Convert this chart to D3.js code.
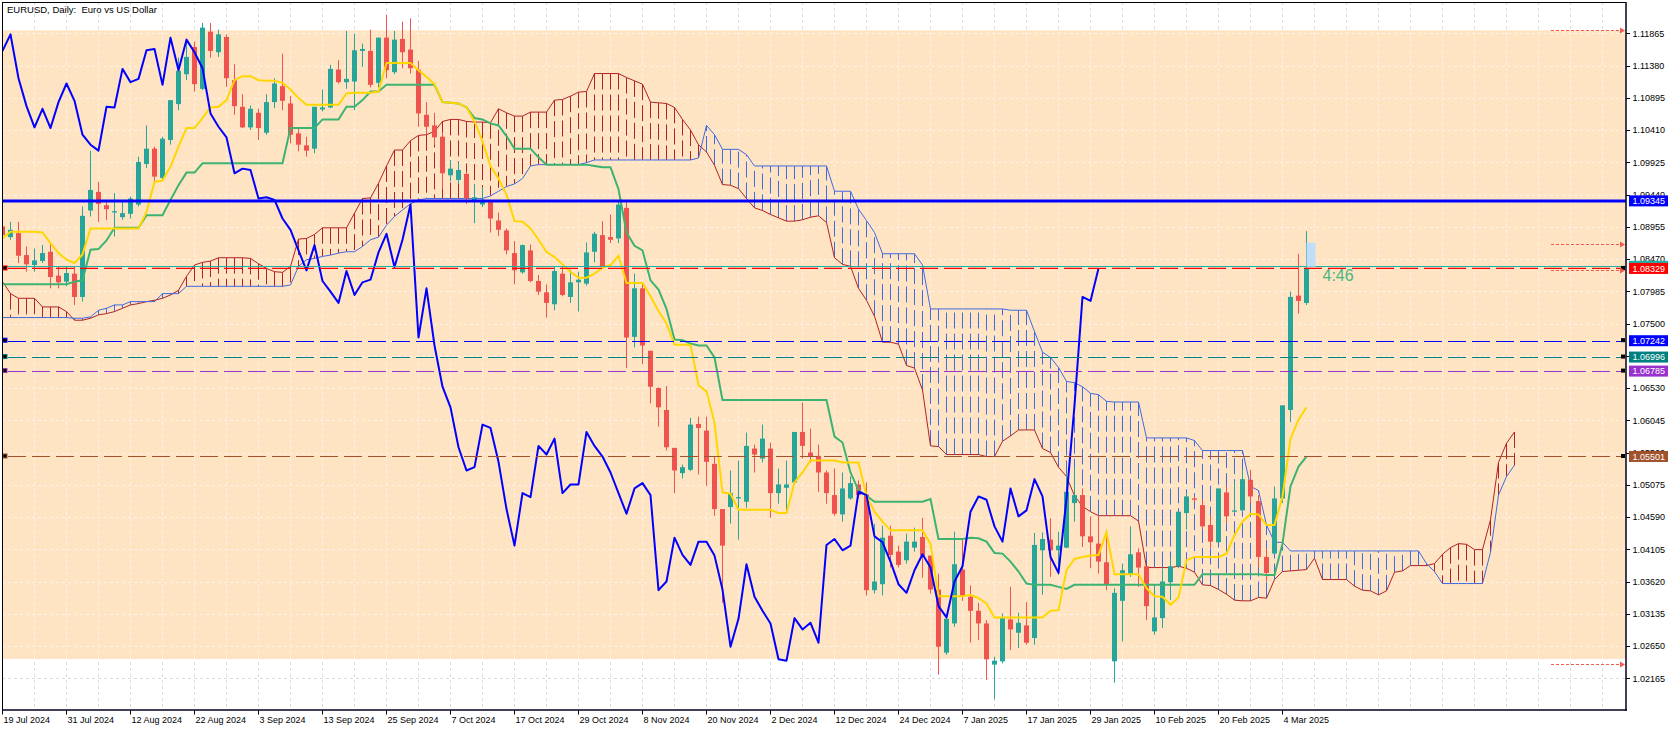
<!DOCTYPE html>
<html>
<head>
<meta charset="utf-8">
<script src="https://cdn.jsdelivr.net/npm/d3@7/dist/d3.min.js"></script>
<style>
html,body{margin:0;padding:0;background:#fff;overflow:hidden}
svg{display:block}
text{font-family:"Liberation Sans",Arial,sans-serif}
</style>
</head>
<body>
<svg id="chart" width="1679" height="731"></svg>
<script>
// ---------------- DATA (EURUSD daily, 19 Jul 2024 .. 7 Mar 2025) ----------------
const openP = [
1.0896,1.0880,1.0886,1.0853,1.0838,1.0844,1.0858,1.0822,1.0813,1.0825,
1.0790,1.0920,1.0948,1.0928,1.0917,1.0910,1.0915,1.0929,1.0990,1.1013,
1.0969,1.1026,1.1080,1.1125,1.1166,1.1103,1.1189,1.1158,1.1181,1.1116,
1.1076,1.1045,1.1067,1.1037,1.1083,1.1107,1.1081,1.1036,1.1018,1.1013,
1.1072,1.1075,1.1132,1.1113,1.1114,1.1160,1.1160,1.1112,1.1180,1.1128,
1.1178,1.1162,1.1132,1.1064,1.1048,1.1031,1.0973,1.0966,1.0975,1.0933,
1.0929,1.0933,1.0905,1.0890,1.0856,1.0827,1.0860,1.0814,1.0797,1.0779,
1.0825,1.0790,1.0812,1.0810,1.0858,1.0883,1.0880,1.0878,1.0924,1.0730,
1.0803,1.0709,1.0653,1.0620,1.0563,1.0525,1.0530,1.0599,1.0589,1.0539,
1.0471,1.0474,1.0487,1.0482,1.0562,1.0547,1.0562,1.0495,1.0503,1.0511,
1.0587,1.0556,1.0551,1.0526,1.0492,1.0463,1.0487,1.0508,1.0493,1.0349,
1.0358,1.0431,1.0407,1.0394,1.0413,1.0429,1.0401,1.0350,1.0255,1.0299,
1.0380,1.0339,1.0318,1.0299,1.0237,1.0242,1.0305,1.0285,1.0296,1.0277,
1.0409,1.0425,1.0409,1.0413,1.0480,1.0492,1.0430,1.0419,1.0391,1.0242,
1.0333,1.0373,1.0406,1.0385,1.0287,1.0307,1.0361,1.0385,1.0465,1.0487,
1.0477,1.0447,1.0421,1.0496,1.0467,1.0469,1.0515,1.0483,1.0399,1.0404,
1.0487,1.0620,1.0792,1.0781];
const highP = [
1.0900,1.0903,1.0903,1.0866,1.0863,1.0868,1.0871,1.0836,1.0836,1.0836,
1.0926,1.1010,1.0963,1.0936,1.0946,1.0933,1.0941,1.1001,1.1048,1.1016,
1.1031,1.1086,1.1150,1.1178,1.1174,1.1202,1.1202,1.1192,1.1185,1.1140,
1.1095,1.1078,1.1073,1.1095,1.1119,1.1156,1.1092,1.1044,1.1031,1.1076,
1.1102,1.1139,1.1146,1.1190,1.1186,1.1171,1.1192,1.1180,1.1214,1.1190,
1.1204,1.1209,1.1145,1.1083,1.1067,1.1038,1.0996,1.0992,1.0979,1.0960,
1.0955,1.0936,1.0917,1.0893,1.0874,1.0869,1.0869,1.0823,1.0809,1.0836,
1.0836,1.0831,1.0828,1.0872,1.0888,1.0904,1.0914,1.0933,1.0933,1.0825,
1.0812,1.0709,1.0654,1.0656,1.0563,1.0538,1.0608,1.0610,1.0610,1.0550,
1.0471,1.0529,1.0544,1.0586,1.0568,1.0598,1.0571,1.0532,1.0544,1.0587,
1.0631,1.0592,1.0568,1.0529,1.0532,1.0526,1.0520,1.0514,1.0511,1.0449,
1.0446,1.0446,1.0416,1.0434,1.0443,1.0458,1.0401,1.0374,1.0312,1.0437,
1.0425,1.0356,1.0330,1.0304,1.0249,1.0314,1.0354,1.0315,1.0331,1.0435,
1.0436,1.0457,1.0437,1.0525,1.0533,1.0502,1.0460,1.0462,1.0440,1.0352,
1.0389,1.0445,1.0412,1.0385,1.0357,1.0382,1.0397,1.0467,1.0495,1.0490,
1.0485,1.0462,1.0502,1.0505,1.0512,1.0530,1.0530,1.0492,1.0412,1.0505,
1.0627,1.0798,1.0855,1.0889];
const lowP = [
1.0880,1.0876,1.0841,1.0828,1.0828,1.0841,1.0803,1.0803,1.0806,1.0778,
1.0783,1.0911,1.0903,1.0906,1.0881,1.0906,1.0908,1.0926,1.0984,1.0963,
1.0966,1.1019,1.1071,1.1116,1.1099,1.1101,1.1150,1.1151,1.1106,1.1064,
1.1044,1.1041,1.1026,1.1034,1.1074,1.1071,1.1021,1.1009,1.1001,1.1006,
1.1069,1.1074,1.1111,1.1103,1.1071,1.1136,1.1105,1.1105,1.1119,1.1125,
1.1134,1.1126,1.1046,1.1035,1.1019,1.0952,1.0964,1.0960,1.0930,1.0901,
1.0925,1.0887,1.0882,1.0854,1.0809,1.0825,1.0812,1.0793,1.0759,1.0770,
1.0791,1.0781,1.0768,1.0807,1.0842,1.0834,1.0871,1.0871,1.0683,1.0714,
1.0689,1.0630,1.0595,1.0559,1.0495,1.0517,1.0528,1.0523,1.0506,1.0461,
1.0330,1.0449,1.0425,1.0473,1.0526,1.0541,1.0458,1.0479,1.0467,1.0508,
1.0547,1.0541,1.0497,1.0479,1.0461,1.0452,1.0485,1.0487,1.0341,1.0344,
1.0341,1.0383,1.0383,1.0389,1.0407,1.0368,1.0344,1.0222,1.0252,1.0294,
1.0333,1.0270,1.0274,1.0214,1.0185,1.0239,1.0259,1.0262,1.0267,1.0267,
1.0342,1.0369,1.0372,1.0412,1.0452,1.0414,1.0382,1.0374,1.0349,1.0210,
1.0272,1.0369,1.0354,1.0304,1.0282,1.0292,1.0334,1.0382,1.0440,1.0482,
1.0440,1.0412,1.0420,1.0450,1.0465,1.0467,1.0480,1.0384,1.0362,1.0404,
1.0480,1.0602,1.0765,1.0778];
const closeP = [
1.0883,1.0891,1.0852,1.0839,1.0845,1.0856,1.0820,1.0812,1.0826,1.0790,
1.0912,1.0951,1.0930,1.0922,1.0919,1.0916,1.0938,1.0993,1.1013,1.0971,
1.1028,1.1086,1.1130,1.1151,1.1110,1.1195,1.1160,1.1185,1.1119,1.1077,
1.1045,1.1073,1.1044,1.1083,1.1111,1.1085,1.1034,1.1019,1.1010,1.1076,
1.1075,1.1133,1.1113,1.1118,1.1161,1.1163,1.1109,1.1180,1.1131,1.1177,
1.1158,1.1134,1.1066,1.1046,1.1030,1.0976,1.0983,1.0981,1.0938,1.0940,
1.0936,1.0908,1.0891,1.0860,1.0830,1.0868,1.0814,1.0798,1.0781,1.0829,
1.0793,1.0812,1.0816,1.0857,1.0885,1.0835,1.0876,1.0929,1.0729,1.0803,
1.0717,1.0655,1.0624,1.0564,1.0529,1.0534,1.0598,1.0593,1.0542,1.0471,
1.0416,1.0495,1.0489,1.0566,1.0553,1.0577,1.0495,1.0508,1.0508,1.0587,
1.0566,1.0550,1.0526,1.0495,1.0464,1.0502,1.0510,1.0492,1.0349,1.0362,
1.0428,1.0402,1.0387,1.0422,1.0422,1.0401,1.0350,1.0264,1.0306,1.0388,
1.0339,1.0318,1.0299,1.0245,1.0243,1.0307,1.0290,1.0300,1.0270,1.0417,
1.0426,1.0409,1.0416,1.0497,1.0492,1.0430,1.0421,1.0392,1.0358,1.0345,
1.0379,1.0403,1.0383,1.0325,1.0308,1.0362,1.0385,1.0467,1.0490,1.0485,
1.0445,1.0422,1.0502,1.0460,1.0469,1.0516,1.0490,1.0399,1.0375,1.0487,
1.0627,1.0790,1.0784,1.0833];

// Ichimoku lines
const tenkan = [
1.0878,1.0888,1.0888,1.0888,1.0888,1.0887,1.0871,1.0856,1.0846,1.0841,
1.0854,1.0893,1.0893,1.0893,1.0893,1.0893,1.0893,1.0893,1.0918,1.0963,
1.0965,1.0986,1.1016,1.1044,1.1044,1.1059,1.1075,1.1076,1.1086,1.1116,
1.1122,1.1122,1.1116,1.1115,1.1115,1.1112,1.1102,1.1089,1.1079,1.1079,
1.1079,1.1079,1.1079,1.1096,1.1097,1.1097,1.1097,1.1099,1.1142,1.1142,
1.1142,1.1142,1.1131,1.1121,1.1110,1.1083,1.1082,1.1081,1.1075,1.1054,
1.1024,1.0987,1.0968,1.0944,1.0904,1.0903,1.0893,1.0876,1.0858,1.0850,
1.0839,1.0828,1.0819,1.0819,1.0825,1.0834,1.0838,1.0852,1.0811,1.0811,
1.0811,1.0791,1.0769,1.0750,1.0718,1.0718,1.0718,1.0657,1.0648,1.0601,
1.0496,1.0494,1.0470,1.0470,1.0470,1.0470,1.0470,1.0465,1.0465,1.0511,
1.0526,1.0544,1.0544,1.0544,1.0544,1.0541,1.0541,1.0541,1.0491,1.0467,
1.0452,1.0439,1.0439,1.0439,1.0439,1.0439,1.0419,1.0340,1.0340,1.0340,
1.0340,1.0342,1.0337,1.0329,1.0308,1.0308,1.0308,1.0308,1.0308,1.0308,
1.0308,1.0318,1.0319,1.0379,1.0396,1.0399,1.0401,1.0402,1.0436,1.0373,
1.0373,1.0373,1.0373,1.0352,1.0340,1.0339,1.0327,1.0338,1.0394,1.0399,
1.0399,1.0399,1.0399,1.0404,1.0432,1.0452,1.0464,1.0463,1.0447,1.0447,
1.0490,1.0577,1.0605,1.0624];
const kijun = [
1.0809,1.0809,1.0809,1.0809,1.0809,1.0809,1.0809,1.0809,1.0809,1.0813,
1.0815,1.0861,1.0862,1.0875,1.0894,1.0894,1.0894,1.0894,1.0913,1.0913,
1.0913,1.0936,1.0958,1.0977,1.0977,1.0991,1.0991,1.0991,1.0991,1.0991,
1.0991,1.0991,1.0991,1.0991,1.0991,1.0991,1.1044,1.1044,1.1044,1.1044,
1.1057,1.1057,1.1057,1.1076,1.1076,1.1086,1.1099,1.1099,1.1109,1.1109,
1.1109,1.1109,1.1109,1.1109,1.1109,1.1083,1.1082,1.1081,1.1075,1.1059,
1.1057,1.1051,1.1048,1.1032,1.1013,1.1013,1.1013,1.1000,1.0989,1.0989,
1.0989,1.0989,1.0989,1.0989,1.0987,1.0985,1.0985,1.0952,1.0887,1.0867,
1.0860,1.0815,1.0801,1.0772,1.0726,1.0725,1.0720,1.0717,1.0717,1.0699,
1.0635,1.0635,1.0635,1.0635,1.0635,1.0635,1.0635,1.0635,1.0635,1.0635,
1.0635,1.0635,1.0635,1.0635,1.0580,1.0571,1.0526,1.0499,1.0491,1.0482,
1.0482,1.0482,1.0482,1.0482,1.0482,1.0482,1.0486,1.0426,1.0426,1.0426,
1.0426,1.0428,1.0427,1.0422,1.0405,1.0404,1.0392,1.0377,1.0359,1.0357,
1.0357,1.0357,1.0354,1.0351,1.0357,1.0357,1.0357,1.0357,1.0357,1.0357,
1.0357,1.0357,1.0357,1.0357,1.0357,1.0357,1.0357,1.0357,1.0357,1.0357,
1.0373,1.0373,1.0373,1.0373,1.0373,1.0373,1.0373,1.0373,1.0372,1.0372,
1.0419,1.0505,1.0535,1.0550];
const spanA = [
1.0813,1.0795,1.0788,1.0788,1.0788,1.0775,1.0775,1.0775,1.0768,1.0755,
1.0755,1.0758,1.0763,1.0765,1.0768,1.0773,1.0778,1.0780,1.0783,1.0785,
1.0788,1.0793,1.0800,1.0821,1.0838,1.0842,1.0844,1.0849,1.0849,1.0849,
1.0849,1.0848,1.0840,1.0833,1.0828,1.0827,1.0836,1.0877,1.0878,1.0884,
1.0894,1.0894,1.0894,1.0894,1.0916,1.0938,1.0939,1.0961,1.0987,1.1011,
1.1011,1.1025,1.1033,1.1034,1.1039,1.1054,1.1057,1.1057,1.1054,1.1053,
1.1053,1.1052,1.1073,1.1067,1.1062,1.1062,1.1068,1.1068,1.1068,1.1086,
1.1087,1.1092,1.1098,1.1099,1.1126,1.1126,1.1126,1.1126,1.1120,1.1115,
1.1110,1.1083,1.1082,1.1081,1.1075,1.1057,1.1041,1.1019,1.1008,1.0988,
1.0959,1.0958,1.0953,1.0938,1.0924,1.0920,1.0914,1.0909,1.0904,1.0904,
1.0906,1.0910,1.0912,1.0902,1.0849,1.0839,1.0836,1.0803,1.0785,1.0761,
1.0722,1.0722,1.0719,1.0687,1.0683,1.0650,1.0566,1.0565,1.0553,1.0553,
1.0553,1.0553,1.0553,1.0550,1.0550,1.0573,1.0581,1.0590,1.0590,1.0590,
1.0562,1.0556,1.0534,1.0520,1.0491,1.0475,1.0467,1.0461,1.0461,1.0461,
1.0461,1.0461,1.0453,1.0383,1.0383,1.0383,1.0383,1.0385,1.0382,1.0376,
1.0357,1.0356,1.0350,1.0343,1.0334,1.0333,1.0333,1.0338,1.0337,1.0365,
1.0377,1.0378,1.0379,1.0380,1.0397,1.0365,1.0365,1.0365,1.0365,1.0355,
1.0349,1.0348,1.0342,1.0348,1.0376,1.0378,1.0386,1.0386,1.0386,1.0389,
1.0403,1.0413,1.0419,1.0418,1.0410,1.0410,1.0455,1.0541,1.0570,1.0587];
const spanB = [
1.0759,1.0759,1.0759,1.0759,1.0759,1.0759,1.0759,1.0759,1.0759,1.0758,
1.0758,1.0760,1.0770,1.0773,1.0778,1.0778,1.0783,1.0783,1.0783,1.0783,
1.0795,1.0795,1.0795,1.0806,1.0806,1.0806,1.0806,1.0806,1.0806,1.0806,
1.0806,1.0806,1.0806,1.0806,1.0806,1.0806,1.0808,1.0836,1.0846,1.0848,
1.0851,1.0853,1.0856,1.0858,1.0858,1.0866,1.0876,1.0880,1.0898,1.0911,
1.0921,1.0930,1.0936,1.0938,1.0938,1.0938,1.0938,1.0938,1.0938,1.0938,
1.0938,1.0942,1.0949,1.0956,1.0960,1.0968,1.0987,1.0989,1.0989,1.0989,
1.0989,1.0989,1.0989,1.0992,1.0996,1.0996,1.0996,1.0996,1.0996,1.0996,
1.0996,1.0996,1.0996,1.0996,1.0996,1.0996,1.0996,1.0999,1.1048,1.1034,
1.1012,1.1012,1.1012,1.1004,1.0987,1.0987,1.0987,1.0987,1.0987,1.0987,
1.0987,1.0987,1.0987,1.0987,1.0949,1.0949,1.0949,1.0922,1.0905,1.0887,
1.0855,1.0855,1.0855,1.0855,1.0855,1.0838,1.0772,1.0772,1.0772,1.0772,
1.0772,1.0772,1.0772,1.0772,1.0772,1.0772,1.0770,1.0770,1.0770,1.0738,
1.0707,1.0699,1.0684,1.0663,1.0661,1.0655,1.0645,1.0643,1.0633,1.0632,
1.0632,1.0632,1.0632,1.0578,1.0578,1.0578,1.0578,1.0578,1.0578,1.0574,
1.0559,1.0559,1.0559,1.0559,1.0559,1.0559,1.0505,1.0499,1.0447,1.0421,
1.0421,1.0408,1.0408,1.0408,1.0408,1.0408,1.0408,1.0408,1.0408,1.0408,
1.0408,1.0408,1.0408,1.0408,1.0408,1.0408,1.0408,1.0408,1.0389,1.0377,
1.0359,1.0359,1.0359,1.0359,1.0359,1.0359,1.0406,1.0492,1.0520,1.0537];

const dateLabels = ["19 Jul 2024","31 Jul 2024","12 Aug 2024","22 Aug 2024","3 Sep 2024",
  "13 Sep 2024","25 Sep 2024","7 Oct 2024","17 Oct 2024","29 Oct 2024","8 Nov 2024",
  "20 Nov 2024","2 Dec 2024","12 Dec 2024","24 Dec 2024","7 Jan 2025","17 Jan 2025",
  "29 Jan 2025","10 Feb 2025","20 Feb 2025","4 Mar 2025"];
const priceTicks = [1.11865,1.11380,1.10895,1.10410,1.09925,1.09440,1.08955,1.08470,1.07985,
  1.07500,1.07015,1.06530,1.06045,1.05560,1.05075,1.04590,1.04105,1.03620,1.03135,1.02650,1.02165];
const resistanceLevel = 1.09345;
const bidLevel = 1.08329;
const askLevel = 1.08361;
const dashedLevels = [1.07242, 1.06996, 1.06785, 1.05501];
const zoneRange = [1.02456, 1.11910];
const alertLevels = [1.11910, 1.08692, 1.08306, 1.02376];
const spreadRange = [1.08356, 1.08716];
const timerLabel = "4:46";
const title = "EURUSD, Daily:  Euro vs US Dollar";

// ---------------- LAYOUT / STYLE ----------------
const W = 1679, H = 731;
const plot = {l: 2, t: 2, r: 1626, b: 710};
const C = {
  bull: "#26a69a", bear: "#ef5350", zone: "#ffe4c4",
  gridOut: "#dcdcdc", gridIn: "#fbf2e9",
  tenkan: "#ffd700", kijun: "#3cb371", chikou: "#0000ff",
  spanA: "#b22222", spanB: "#4169e1",
  res: "#0000ff", bid: "#ff0000", ask: "#20b2aa",
  levels: ["#0000ff", "#008080", "#9932cc", "#a0522d"],
  alert: "#f25a52", spread: "#c0defa", timer: "#4db57f", frame: "#00001e"
};
const fmt = d3.format(".5f");

const svg = d3.select("#chart");
const x = d3.scaleLinear().domain([0, 200]).range([2.5, 1602.5]);
const y = d3.scaleLinear().domain([1.01688, 1.12336]).range([plot.b, plot.t]);

svg.append("rect").attr("width", W).attr("height", H).attr("fill", "#fff");

const defs = svg.append("defs");
defs.append("clipPath").attr("id", "plotClip").append("rect")
  .attr("x", plot.l).attr("y", plot.t).attr("width", plot.r - plot.l).attr("height", plot.b - plot.t);
defs.append("clipPath").attr("id", "zoneClip").append("rect")
  .attr("x", plot.l).attr("y", y(zoneRange[1])).attr("width", plot.r - plot.l)
  .attr("height", y(zoneRange[0]) - y(zoneRange[1]));

const vGrid = d3.range(4, 201, 4);
function drawGrid(g, color) {
  g.selectAll("line.v").data(vGrid).join("line").attr("class", "v")
    .attr("x1", d => x(d)).attr("x2", d => x(d)).attr("y1", plot.t).attr("y2", plot.b)
    .attr("stroke", color).attr("stroke-width", 1).attr("stroke-dasharray", "3,3");
  g.selectAll("line.h").data(priceTicks).join("line").attr("class", "h")
    .attr("x1", plot.l).attr("x2", plot.r)
    .attr("y1", d => Math.round(y(d)) + 0.5).attr("y2", d => Math.round(y(d)) + 0.5)
    .attr("stroke", color).attr("stroke-width", 1).attr("stroke-dasharray", "3,3");
}
drawGrid(svg.append("g").attr("clip-path", "url(#plotClip)"), C.gridOut);

// zone rectangle
svg.append("rect").attr("clip-path", "url(#plotClip)")
  .attr("x", plot.l).attr("width", plot.r - plot.l)
  .attr("y", y(zoneRange[1])).attr("height", y(zoneRange[0]) - y(zoneRange[1]))
  .attr("fill", C.zone);
drawGrid(svg.append("g").attr("clip-path", "url(#zoneClip)"), C.gridIn);

const P = svg.append("g").attr("clip-path", "url(#plotClip)");

// ---- Ichimoku cloud (dashed vertical histogram) ----
const cloud = spanA.map((a, i) => ({i, a, b: spanB[i]})).filter(d => Math.abs(d.a - d.b) > 0.00002);
P.append("g").selectAll("line").data(cloud).join("line")
  .attr("x1", d => x(d.i)).attr("x2", d => x(d.i))
  .attr("y1", d => y(d.a)).attr("y2", d => y(d.b))
  .attr("stroke", d => d.a > d.b ? C.spanA : C.spanB)
  .attr("stroke-width", 1).attr("stroke-dasharray", "16,5");
const lineGen = d3.line().x((d, i) => x(i)).y(d => y(d));
P.append("path").datum(spanA).attr("d", lineGen).attr("fill", "none").attr("stroke", C.spanA).attr("stroke-width", 1);
P.append("path").datum(spanB).attr("d", lineGen).attr("fill", "none").attr("stroke", C.spanB).attr("stroke-width", 1);

// ---- Candles ----
const bars = openP.map((o, i) => ({i, o, h: highP[i], l: lowP[i], c: closeP[i]}));
const cg = P.append("g");
cg.selectAll("rect.w").data(bars).join("rect").attr("class", "w")
  .attr("x", d => x(d.i) - 0.5).attr("width", 1)
  .attr("y", d => y(d.h)).attr("height", d => Math.max(1, y(d.l) - y(d.h)))
  .attr("fill", d => d.c >= d.o ? C.bull : C.bear);
cg.selectAll("rect.b").data(bars).join("rect").attr("class", "b")
  .attr("x", d => x(d.i) - 2.5).attr("width", 5)
  .attr("y", d => Math.min(y(d.o), y(d.c)))
  .attr("height", d => Math.max(1.2, Math.abs(y(d.o) - y(d.c))))
  .attr("fill", d => d.c >= d.o ? C.bull : C.bear);

// ---- Tenkan / Kijun / Chikou ----
P.append("path").datum(kijun).attr("d", lineGen).attr("fill", "none").attr("stroke", C.kijun).attr("stroke-width", 2);
P.append("path").datum(tenkan).attr("d", lineGen).attr("fill", "none").attr("stroke", C.tenkan).attr("stroke-width", 2);
const lag = 26;
P.append("path").datum(closeP.slice(lag)).attr("d", lineGen).attr("fill", "none")
  .attr("stroke", C.chikou).attr("stroke-width", 2).attr("stroke-linejoin", "round");

// ---- Horizontal objects ----
const xs = plot.l + 6, xe = plot.r - 5;
P.append("line").attr("x1", plot.l).attr("x2", plot.r)
  .attr("y1", Math.round(y(askLevel)) + 0.5).attr("y2", Math.round(y(askLevel)) + 0.5)
  .attr("stroke", C.ask).attr("stroke-width", 1);
P.append("line").attr("x1", xs).attr("x2", xe)
  .attr("y1", y(bidLevel)).attr("y2", y(bidLevel))
  .attr("stroke", C.bid).attr("stroke-width", 1.3).attr("stroke-dasharray", "18,6");
P.selectAll("line.lvl").data(dashedLevels).join("line").attr("class", "lvl")
  .attr("x1", xs).attr("x2", xe)
  .attr("y1", d => Math.round(y(d)) + 0.5).attr("y2", d => Math.round(y(d)) + 0.5)
  .attr("stroke", (d, i) => C.levels[i]).attr("stroke-width", 1).attr("stroke-dasharray", "18,6");
P.append("line").attr("x1", plot.l).attr("x2", plot.r)
  .attr("y1", y(resistanceLevel)).attr("y2", y(resistanceLevel))
  .attr("stroke", C.res).attr("stroke-width", 3);

// anchor squares
const anchors = [{p: bidLevel, c: C.bid}].concat(dashedLevels.map((p, i) => ({p, c: C.levels[i]})));
P.selectAll("rect.anL").data(anchors).join("rect").attr("class", "anL")
  .attr("x", plot.l + 1).attr("y", d => y(d.p) - 2.5).attr("width", 4).attr("height", 4)
  .attr("fill", "#000").attr("stroke", d => d.c).attr("stroke-width", 1);
P.selectAll("rect.anR").data(anchors).join("rect").attr("class", "anR")
  .attr("x", plot.r - 4.5).attr("y", d => y(d.p) - 2).attr("width", 3).attr("height", 3)
  .attr("fill", "#000").attr("stroke", "#000").attr("stroke-width", 1);

// alert arrows (dotted, right side)
const ag = P.append("g");
ag.selectAll("line").data(alertLevels).join("line")
  .attr("x1", 1551).attr("x2", 1621)
  .attr("y1", d => Math.round(y(d)) + 0.5).attr("y2", d => Math.round(y(d)) + 0.5)
  .attr("stroke", C.alert).attr("stroke-width", 1).attr("stroke-dasharray", "3,2");
ag.selectAll("path").data(alertLevels).join("path")
  .attr("d", d => { const yy = Math.round(y(d)) + 0.5; return `M1620,${yy - 3}L1625,${yy}L1620,${yy + 3}Z`; })
  .attr("fill", C.alert);

// spread box and timer next to last bar
const last = openP.length - 1;
P.append("rect").attr("x", x(last)).attr("width", 9)
  .attr("y", y(spreadRange[1])).attr("height", y(spreadRange[0]) - y(spreadRange[1]))
  .attr("fill", C.spread);
P.append("text").attr("x", x(last + 2)).attr("y", y(closeP[last]) + 12.5)
  .attr("font-size", 16).attr("fill", C.timer).text(timerLabel);

// ---- Frame ----
svg.append("line").attr("x1", plot.l).attr("x2", plot.r).attr("y1", plot.t + 0.5).attr("y2", plot.t + 0.5).attr("stroke", "#000");
svg.append("line").attr("x1", plot.l + 0.5).attr("x2", plot.l + 0.5).attr("y1", plot.t).attr("y2", plot.b).attr("stroke", "#000");
svg.append("line").attr("x1", plot.r).attr("x2", plot.r).attr("y1", plot.t).attr("y2", plot.b + 1).attr("stroke", C.frame).attr("stroke-width", 1.5);
svg.append("line").attr("x1", plot.l).attr("x2", plot.r + 0.75).attr("y1", plot.b).attr("y2", plot.b).attr("stroke", C.frame).attr("stroke-width", 1.5);

// ---- Price axis ----
const ya = svg.append("g");
ya.selectAll("line").data(priceTicks).join("line")
  .attr("x1", plot.r).attr("x2", plot.r + 4)
  .attr("y1", d => Math.round(y(d)) + 0.5).attr("y2", d => Math.round(y(d)) + 0.5)
  .attr("stroke", "#000");
ya.selectAll("text").data(priceTicks).join("text")
  .attr("x", plot.r + 6.5).attr("y", d => y(d) + 3.3)
  .attr("font-size", 9).attr("fill", "#000").text(d => fmt(d));

// level labels on the axis
const tags = [
  {p: askLevel, c: C.ask}, {p: resistanceLevel, c: C.res}, {p: bidLevel, c: C.bid}
].concat(dashedLevels.map((p, i) => ({p, c: C.levels[i]})));
const tg = svg.append("g").selectAll("g").data(tags).join("g");
tg.append("rect").attr("x", plot.r + 3).attr("y", d => y(d.p) - 5.5)
  .attr("width", 39).attr("height", 11).attr("fill", d => d.c);
tg.append("text").attr("x", plot.r + 6.5).attr("y", d => y(d.p) + 3.4)
  .attr("font-size", 9).attr("fill", "#fff").text(d => fmt(d.p));

// ---- Time axis ----
const xa = svg.append("g");
const labelIdx = dateLabels.map((d, k) => k * 8);
xa.selectAll("line").data(labelIdx).join("line")
  .attr("x1", d => x(d)).attr("x2", d => x(d)).attr("y1", plot.b).attr("y2", plot.b + 4.5)
  .attr("stroke", "#000");
xa.selectAll("text").data(dateLabels).join("text")
  .attr("x", (d, k) => x(labelIdx[k]) + 1).attr("y", plot.b + 12.8)
  .attr("font-size", 9).attr("fill", "#000").text(d => d);

// ---- Title ----
svg.append("text").attr("x", 7).attr("y", 12.8).attr("font-size", 9.5)
  .style("white-space", "pre").attr("fill", "#000").text(title);
</script>
</body>
</html>
